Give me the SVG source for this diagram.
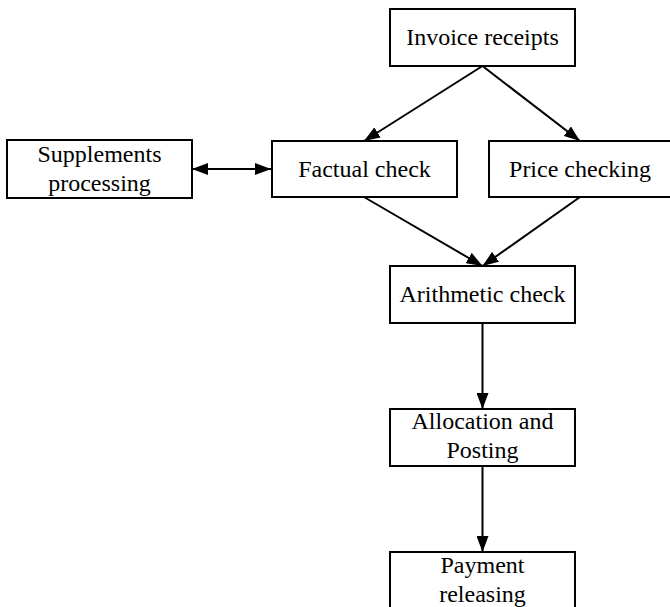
<svg xmlns="http://www.w3.org/2000/svg" width="670" height="607" viewBox="0 0 670 607">
<defs>
<style>
.box{fill:#fff;stroke:#000;stroke-width:2}
.t{font-family:"Liberation Serif","Times New Roman",serif;font-size:24px;fill:#000;text-anchor:middle}
.c{stroke:#000;stroke-width:2;fill:none}
</style>
<marker id="ah" viewBox="0 0 16 12" refX="16" refY="6" markerWidth="16" markerHeight="12" markerUnits="userSpaceOnUse" orient="auto-start-reverse">
<path d="M0,0 L16,6 L0,12 Z" fill="#000"/>
</marker>
</defs>
<rect width="670" height="607" fill="#fff"/>
<g id="connectors">
<line class="c" x1="482.5" y1="66" x2="364" y2="141" marker-end="url(#ah)"/>
<line class="c" x1="482.5" y1="66" x2="580" y2="141" marker-end="url(#ah)"/>
<line class="c" x1="364" y1="197" x2="482.5" y2="266" marker-end="url(#ah)"/>
<line class="c" x1="580" y1="197" x2="482.5" y2="266" marker-end="url(#ah)"/>
<line class="c" x1="192" y1="169" x2="271" y2="169" marker-start="url(#ah)" marker-end="url(#ah)"/>
<line class="c" x1="482.5" y1="323" x2="482.5" y2="409" marker-end="url(#ah)"/>
<line class="c" x1="482.5" y1="466" x2="482.5" y2="552" marker-end="url(#ah)"/>
</g>
<g id="invoice">
<rect class="box" x="390" y="9" width="185" height="57"/>
<text class="t" x="482.5" y="45">Invoice receipts</text>
</g>
<g id="supplements">
<rect class="box" x="7" y="140" width="185" height="58"/>
<text class="t" x="99.5" y="162">Supplements</text>
<text class="t" x="99.5" y="191">processing</text>
</g>
<g id="factual">
<rect class="box" x="272" y="141" width="185" height="56"/>
<text class="t" x="364.5" y="177">Factual check</text>
</g>
<g id="price">
<rect class="box" x="489" y="141" width="185" height="56"/>
<text class="t" x="580" y="177">Price checking</text>
</g>
<g id="arithmetic">
<rect class="box" x="390" y="266" width="185" height="57"/>
<text class="t" x="482.5" y="302">Arithmetic check</text>
</g>
<g id="allocation">
<rect class="box" x="390" y="409" width="185" height="57"/>
<text class="t" x="482.5" y="429">Allocation and</text>
<text class="t" x="482.5" y="458">Posting</text>
</g>
<g id="payment">
<rect class="box" x="390" y="552" width="185" height="70"/>
<text class="t" x="482.5" y="573">Payment</text>
<text class="t" x="482.5" y="602">releasing</text>
</g>
</svg>
